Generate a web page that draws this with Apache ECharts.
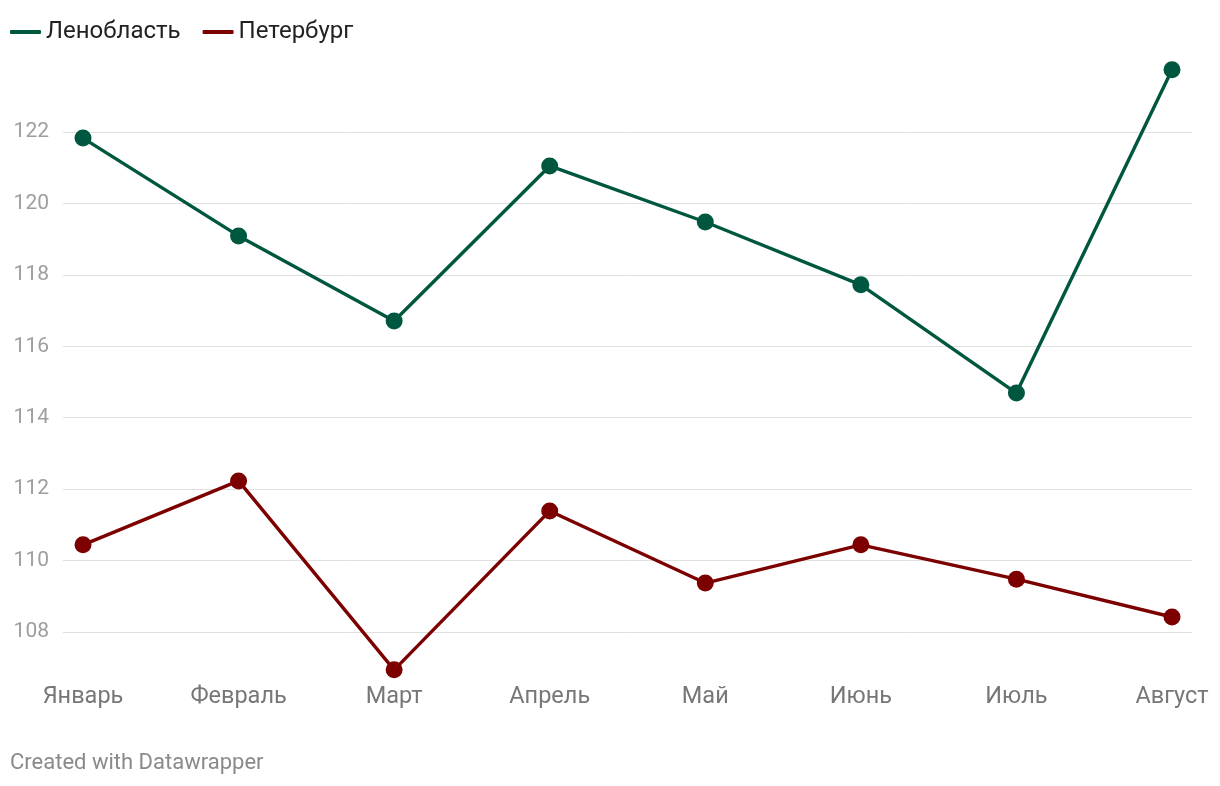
<!DOCTYPE html>
<html>
<head>
<meta charset="utf-8">
<script src="https://cdn.jsdelivr.net/npm/echarts@6/dist/echarts.min.js"></script>
<style>
html,body{margin:0;padding:0;background:#fff;}
#chart{width:1220px;height:786px;}
</style>
</head>
<body>
<div id="chart"></div>
<script>
const categories = ['Январь','Февраль','Март','Апрель','Май','Июнь','Июль','Август'];
const lenoblast = [121.83, 119.09, 116.71, 121.05, 119.48, 117.72, 114.69, 123.74];
const peterburg = [110.44, 112.23, 106.94, 111.39, 109.37, 110.44, 109.48, 108.42];
const seriesNames = ['Ленобласть', 'Петербург'];
const colors = ['#00573f', '#7d0000'];
const yTicks = [106,108,110,112,114,116,118,120,122,124];

const chart = echarts.init(document.getElementById('chart'));
const font = 'Roboto, "Noto Sans", sans-serif';
const gridColors = yTicks.map((v,i)=> (i===0||i===yTicks.length-1) ? 'rgba(0,0,0,0)' : '#e0e0e0');

chart.setOption({
  animation:false,
  textStyle:{fontFamily:font},
  legend:{
    left:5, top:15, icon:'roundRect', itemWidth:31, itemHeight:4, itemGap:22,
    textStyle:{fontSize:24, color:'#222', fontFamily:font},
    data:seriesNames
  },
  graphic:[{type:'text', left:10, top:752, style:{text:'Created with Datawrapper', fill:'#8a8a8a', font:'22px '+font}}],
  grid:[
    {left:63, right:28, top:60.57, bottom:82.57, containLabel:false},
    {left:83, right:48, top:60, bottom:108, containLabel:false}
  ],
  xAxis:[
    {type:'category', gridIndex:0, data:categories, show:false},
    {type:'category', gridIndex:1, data:categories, boundaryGap:false,
      axisLine:{show:false}, axisTick:{show:false}, splitLine:{show:false},
      axisLabel:{fontSize:23.5, color:'#777', margin:7, fontFamily:font}}
  ],
  yAxis:[
    {type:'value', gridIndex:0, min:106, max:124, interval:2,
      axisLine:{show:false}, axisTick:{show:false},
      splitLine:{show:true, lineStyle:{color:gridColors, width:1}},
      axisLabel:{fontSize:21, color:'#9e9e9e', margin:14, fontFamily:font,
        formatter:v=> (v===106||v===124)?'':String(v)}},
    {type:'value', gridIndex:1, min:106.712, max:124.016, show:false, splitLine:{show:false}}
  ],
  series:[
    {name:seriesNames[0], type:'line', xAxisIndex:1, yAxisIndex:1, data:lenoblast,
      color:colors[0], symbol:'circle', symbolSize:17, showAllSymbol:true,
      lineStyle:{width:3.4, color:colors[0]}, itemStyle:{color:colors[0]}},
    {name:seriesNames[1], type:'line', xAxisIndex:1, yAxisIndex:1, data:peterburg,
      color:colors[1], symbol:'circle', symbolSize:17, showAllSymbol:true,
      lineStyle:{width:3.4, color:colors[1]}, itemStyle:{color:colors[1]}}
  ]
});
</script>
</body>
</html>
